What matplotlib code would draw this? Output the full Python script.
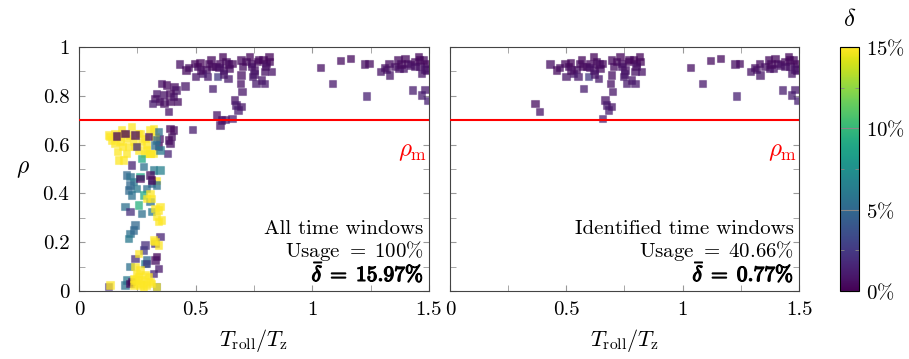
import matplotlib
matplotlib.use('Agg')
import matplotlib.pyplot as plt
import matplotlib.patheffects as pe
import numpy as np
from matplotlib.colors import Normalize
from matplotlib.cm import ScalarMappable

plt.rcParams.update({
    'font.family': 'serif', 'font.serif': ['cmr10'], 'mathtext.fontset': 'cm',
    'axes.unicode_minus': False, 'font.size': 15,
})

# time windows kept by the identification (shown in both panels)
x_ident = [0.365, 0.384, 0.430, 0.458, 0.494, 0.499, 0.509, 0.519, 0.530, 0.544,
           0.556, 0.566, 0.573, 0.587, 0.595, 0.602, 0.616, 0.619, 0.630, 0.638,
           0.645, 0.656, 0.666, 0.673, 0.681, 0.695, 0.691, 0.699, 0.695, 0.656,
           0.695, 0.731, 0.738, 0.745, 0.752, 0.759, 0.766, 0.781, 0.788, 0.795,
           0.802, 0.814, 0.817, 0.824, 0.795, 0.702, 0.716, 1.034, 1.086, 1.120,
           1.163, 1.225, 1.243, 1.232, 1.292, 1.318, 1.329, 1.332, 1.354, 1.368,
           1.372, 1.390, 1.397, 1.407, 1.421, 1.430, 1.440, 1.454, 1.461, 1.469,
           1.476, 1.483, 1.490, 1.469, 1.493, 1.490, 0.520, 0.570, 0.600, 0.620,
           0.640, 0.740, 0.770, 0.800, 0.470, 1.380, 1.440, 1.480, 1.460, 1.310,
           0.550, 0.750]
rho_ident = [0.769, 0.735, 0.930, 0.906, 0.933, 0.878, 0.919, 0.936, 0.892, 0.908,
             0.933, 0.950, 0.831, 0.919, 0.878, 0.933, 0.960, 0.906, 0.940, 0.872,
             0.913, 0.933, 0.783, 0.762, 0.742, 0.755, 0.851, 0.817, 0.885, 0.708,
             0.947, 0.960, 0.933, 0.878, 0.906, 0.851, 0.940, 0.865, 0.950, 0.899,
             0.933, 0.960, 0.940, 0.899, 0.851, 0.919, 0.940, 0.917, 0.851, 0.944,
             0.954, 0.930, 0.933, 0.799, 0.899, 0.909, 0.933, 0.885, 0.919, 0.947,
             0.913, 0.913, 0.954, 0.933, 0.926, 0.824, 0.940, 0.960, 0.919, 0.892,
             0.947, 0.826, 0.906, 0.803, 0.780, 0.933, 0.905, 0.920, 0.915, 0.890,
             0.930, 0.920, 0.950, 0.920, 0.915, 0.930, 0.920, 0.910, 0.950, 0.915,
             0.880, 0.890]
delta_ident = [0.5, 0.8, 0.6, 0.4, 0.3, 0.9, 0.5, 0.2, 1.0, 0.6,
               0.4, 0.3, 1.2, 0.5, 2.5, 0.3, 0.2, 0.6, 0.4, 1.1,
               0.5, 0.3, 0.8, 1.0, 1.2, 0.9, 0.7, 0.9, 0.6, 1.3,
               0.3, 0.2, 0.4, 1.0, 0.6, 1.1, 0.3, 0.9, 0.2, 0.7,
               0.4, 0.2, 0.3, 0.8, 1.0, 0.5, 0.4, 0.6, 1.0, 0.5,
               0.4, 0.6, 0.5, 1.4, 0.8, 0.7, 0.5, 0.9, 0.6, 0.4,
               0.7, 0.8, 0.3, 0.5, 0.6, 1.2, 0.4, 0.3, 0.7, 0.9,
               0.4, 1.1, 0.6, 1.2, 1.4, 0.3, 0.5, 0.4, 0.6, 0.9,
               0.5, 0.7, 0.3, 0.6, 0.5, 0.4, 0.7, 0.8, 0.3, 0.6,
               1.0, 0.9]

# remaining time windows (left panel only)
x_other = [0.354, 0.376, 0.407, 0.416, 0.390, 0.361, 0.333, 0.326, 0.316, 0.344,
           0.390, 0.404, 0.421, 0.454, 0.487, 0.590, 0.611, 0.626, 0.604,
           0.390, 0.404, 0.397, 0.383, 0.390, 0.379, 0.340, 0.344,
           # yellow upper cluster
           0.126, 0.140, 0.154, 0.169, 0.176, 0.187, 0.204, 0.219, 0.226, 0.233,
           0.240, 0.261, 0.269, 0.283, 0.290, 0.304, 0.319, 0.326, 0.164, 0.169,
           0.190, 0.204, 0.254, 0.283, 0.319, 0.133, 0.211, 0.190, 0.290, 0.254,
           0.183, 0.154, 0.304, 0.333,
           # dark inside yellow cluster
           0.161, 0.197, 0.240, 0.297, 0.226, 0.247,
           # blue / teal
           0.340, 0.333, 0.347, 0.326, 0.269, 0.276, 0.204, 0.219, 0.233, 0.211,
           0.226, 0.247, 0.261, 0.290, 0.312, 0.319, 0.347, 0.254, 0.269, 0.240,
           0.219, 0.211, 0.233, 0.197, 0.304, 0.312, 0.276, 0.333, 0.219, 0.204,
           0.197, 0.290, 0.219, 0.283, 0.333,
           # dark / purple lower
           0.304, 0.312, 0.261, 0.219, 0.347, 0.333, 0.326, 0.340, 0.283, 0.276,
           0.240, 0.290, 0.226, 0.219, 0.126, 0.326, 0.319,
           # yellow lower
           0.312, 0.326, 0.340, 0.347, 0.333, 0.354, 0.340, 0.319, 0.340, 0.326,
           0.254, 0.240, 0.247, 0.261, 0.254, 0.269, 0.240, 0.276, 0.290, 0.304,
           0.233, 0.283, 0.297, 0.312, 0.133, 0.261, 0.247, 0.304, 0.290, 0.304,
           0.333, 0.233, 0.276]
rho_other = [0.851, 0.844, 0.837, 0.824, 0.810, 0.803, 0.810, 0.790, 0.769, 0.776,
             0.776, 0.796, 0.776, 0.840, 0.663, 0.721, 0.701, 0.704, 0.680,
             0.667, 0.660, 0.632, 0.619, 0.605, 0.564, 0.594, 0.626,
             0.639, 0.619, 0.605, 0.632, 0.612, 0.591, 0.626, 0.639, 0.673, 0.612,
             0.591, 0.646, 0.612, 0.626, 0.598, 0.660, 0.667, 0.632, 0.571, 0.537,
             0.537, 0.564, 0.578, 0.564, 0.564, 0.632, 0.591, 0.646, 0.578, 0.646,
             0.660, 0.646, 0.564, 0.452,
             0.635, 0.646, 0.639, 0.632, 0.516, 0.591,
             0.653, 0.619, 0.578, 0.598, 0.544, 0.509, 0.475, 0.469, 0.448, 0.414,
             0.393, 0.421, 0.469, 0.421, 0.441, 0.496, 0.496, 0.352, 0.318, 0.270,
             0.236, 0.216, 0.250, 0.346, 0.366, 0.325, 0.393, 0.434, 0.434, 0.045,
             0.025, 0.127, 0.100, 0.113, 0.018,
             0.475, 0.455, 0.462, 0.325, 0.223, 0.141, 0.127, 0.093, 0.189, 0.168,
             0.134, 0.113, 0.038, 0.031, 0.018, 0.195, 0.072,
             0.380, 0.339, 0.332, 0.346, 0.305, 0.291, 0.284, 0.209, 0.189, 0.202,
             0.154, 0.100, 0.072, 0.086, 0.059, 0.045, 0.045, 0.031, 0.025, 0.038,
             0.052, 0.066, 0.059, 0.031, 0.025, 0.025, 0.031, 0.400, 0.380, 0.564,
             0.018, 0.025, 0.011]
delta_other = [0.6, 0.4, 0.5, 0.8, 0.3, 0.7, 0.9, 0.5, 1.0, 0.6,
               0.4, 0.7, 0.5, 0.9, 1.2, 0.8, 0.6, 1.0, 0.9,
               0.2, 0.3, 0.5, 0.4, 0.6, 1.5, 0.3, 0.8,
               16, 16, 16, 16, 16, 16, 16, 16, 16, 16,
               16, 16, 16, 16, 16, 16, 16, 16, 16, 16,
               16, 16, 16, 16, 16, 16, 16, 16, 16, 16,
               16, 16, 16, 16,
               0.3, 0.2, 0.4, 0.5, 1.5, 2.0,
               5.5, 5.0, 6.0, 5.5, 9.0, 5.5, 5.0, 5.5, 6.0, 5.0,
               5.5, 6.0, 9.0, 5.5, 5.0, 6.0, 6.5, 9.5, 5.5, 5.0,
               5.5, 6.0, 5.0, 5.5, 5.5, 6.0, 9.0, 5.5, 5.0, 6.0,
               5.5, 5.0, 5.5, 6.0, 4.5,
               0.5, 0.2, 0.3, 2.0, 1.5, 0.3, 0.5, 1.0, 2.0, 2.5,
               2.0, 2.5, 0.2, 0.3, 2.0, 2.0, 1.5,
               16, 16, 16, 16, 16, 16, 16, 16, 16, 16,
               16, 16, 16, 16, 16, 16, 16, 16, 16, 16,
               16, 16, 16, 16, 16, 16, 16, 16, 16, 16,
               16, 16, 16]

panel_text = [('All time windows', r'Usage $=\;100\%$', r'$\bar{\delta}\;=\;15.97\%$'),
              ('Identified time windows', r'Usage $=\;40.66\%$', r'$\bar{\delta}\;=\;0.77\%$')]
rho_m = 0.7

cmap = plt.get_cmap('viridis')
norm = Normalize(0, 15)


def colors(d, a):
    c = cmap(norm(np.asarray(d)))
    c[:, 3] = a
    return c


fig = plt.figure(figsize=(9.09, 3.59), dpi=100)
ax1 = fig.add_axes([0.0869, 0.1894, 0.385, 0.6797])
ax2 = fig.add_axes([0.4950, 0.1894, 0.384, 0.6797])
cax = fig.add_axes([0.9241, 0.1894, 0.0209, 0.6797])

groups = [[(x_other, rho_other, delta_other), (x_ident, rho_ident, delta_ident)],
          [(x_ident, rho_ident, delta_ident)]]

for ax, grp, txt in zip([ax1, ax2], groups, panel_text):
    for xs, rs, ds in grp:
        ax.scatter(xs, rs, s=28, marker='s', facecolors=colors(ds, 0.75),
                   edgecolors=colors(ds, 0.35), linewidths=0.8, zorder=3)
    ax.axhline(rho_m, color='red', lw=1.5, zorder=4)
    ax.text(1.492, 0.568, r'$\rho_{\mathrm{m}}$', color='red', ha='right', va='center',
            fontsize=18)
    ax.text(0.985, 0.254, txt[0], transform=ax.transAxes, ha='right', va='center')
    ax.text(0.985, 0.164, txt[1], transform=ax.transAxes, ha='right', va='center')
    ax.text(0.985, 0.074, txt[2], transform=ax.transAxes, ha='right', va='center',
            fontsize=15.5,
            path_effects=[pe.withStroke(linewidth=0.9, foreground='black')])
    ax.set_xlim(0, 1.5)
    ax.set_ylim(0, 1)
    ax.set_xticks([0, 0.5, 1, 1.5], ['0', '0.5', '1', '1.5'])
    ax.set_xticks([0.25, 0.75, 1.25], minor=True)
    ax.set_yticks(np.arange(0, 1.01, 0.1), minor=True)
    ax.tick_params(which='both', direction='in', top=True, right=True, color='#999999',
                   length=4, labelsize=15, pad=7)
    for sp in ax.spines.values():
        sp.set_color('#444444')
        sp.set_linewidth(0.8)
    ax.set_xlabel(r'$T_{\mathrm{roll}}/T_{\mathrm{z}}$', fontsize=16, labelpad=6)

ax1.set_yticks([0, 0.2, 0.4, 0.6, 0.8, 1], ['0', '0.2', '0.4', '0.6', '0.8', '1'])
ax2.set_yticks([0, 0.2, 0.4, 0.6, 0.8, 1], [])
ax1.set_ylabel(r'$\rho$', rotation=0, fontsize=17, labelpad=14, va='center')

cb = fig.colorbar(ScalarMappable(norm=norm, cmap=cmap), cax=cax)
cb.set_ticks([0, 5, 10, 15], labels=[r'$0\%$', r'$5\%$', r'$10\%$', r'$15\%$'])
cb.ax.set_yticks([2.5, 7.5, 12.5], minor=True)
cb.ax.tick_params(which='both', direction='in', left=True, right=True, color='#888888',
                  labelsize=15, pad=5)
cb.ax.tick_params(which='major', length=7)
cb.ax.tick_params(which='minor', length=3)
cb.outline.set_linewidth(0.8)
cb.ax.set_title(r'$\delta$', fontsize=18, pad=15)

plt.savefig('out.png', dpi=100)
